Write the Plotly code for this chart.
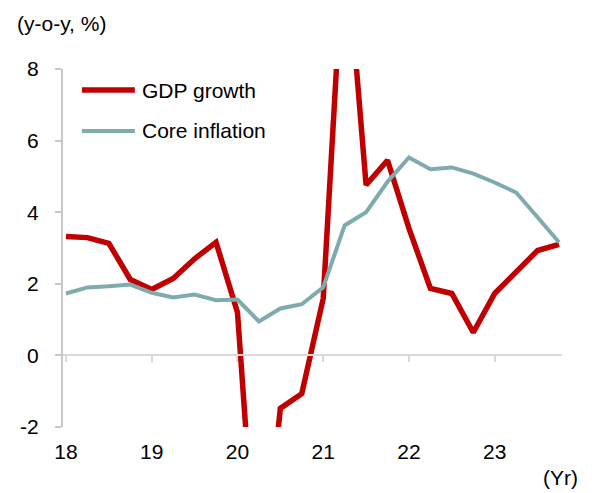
import plotly.graph_objects as go

# ---- data ----
quarters = ["18Q1", "18Q2", "18Q3", "18Q4",
            "19Q1", "19Q2", "19Q3", "19Q4",
            "20Q1", "20Q2", "20Q3", "20Q4",
            "21Q1", "21Q2", "21Q3", "21Q4",
            "22Q1", "22Q2", "22Q3", "22Q4",
            "23Q1", "23Q2", "23Q3", "23Q4"]
gdp_growth = [3.32, 3.29, 3.13, 2.12,
              1.84, 2.15, 2.70, 3.16,
              1.20, -7.2, -1.48, -1.07,
              1.59, 12.0, 4.76, 5.45,
              3.55, 1.87, 1.73, 0.64,
              1.73, 2.32, 2.93, 3.10]
core_inflation = [1.73, 1.90, 1.93, 1.98,
                  1.75, 1.62, 1.70, 1.54,
                  1.56, 0.95, 1.31, 1.43,
                  1.90, 3.63, 4.00, 4.85,
                  5.53, 5.20, 5.25, 5.08,
                  4.83, 4.55, 3.86, 3.16]
year_ticks = [18, 19, 20, 21, 22, 23]
year_labels = ["18", "19", "20", "21", "22", "23"]
y_ticks = [-2, 0, 2, 4, 6, 8]
y_labels = ["-2", "0", "2", "4", "6", "8"]

# quarter label -> numeric position on the year axis
x_vals = [int(q[:2]) + (int(q[3]) - 1) / 4 for q in quarters]

RED = "#C00000"
TEAL = "#7FAAAE"
FONT = "Liberation Sans, Arial, sans-serif"
FS = 21
X_RANGE = [17.965, 23.785]
Y_RANGE = [-2, 8]

fig = go.Figure()
fig.add_trace(go.Scatter(x=x_vals, y=gdp_growth, mode="lines", name="GDP growth",
                         line=dict(color=RED, width=5.5), showlegend=False,
                         xaxis="x", yaxis="y"))
fig.add_trace(go.Scatter(x=x_vals, y=core_inflation, mode="lines", name="Core inflation",
                         line=dict(color=TEAL, width=4), showlegend=False,
                         xaxis="x2", yaxis="y"))

# the page body has an 8px margin, so the figure is 8px smaller than the window
fig.update_layout(
    width=584, height=485,
    margin=dict(l=55, r=30, t=61, b=66),
    paper_bgcolor="white", plot_bgcolor="white",
    font=dict(family=FONT, size=FS, color="#000000"),
    xaxis=dict(range=X_RANGE, tickvals=year_ticks, ticktext=year_labels,
               showline=False, showgrid=False, zeroline=False, ticks="",
               ticklabelstandoff=10, fixedrange=True),
    xaxis2=dict(range=X_RANGE, overlaying="x", anchor="free", position=0.2,
                side="bottom", tickvals=year_ticks, showticklabels=False,
                showline=True, linecolor="#D9D9D9", linewidth=2,
                ticks="outside", ticklen=6, tickwidth=2, tickcolor="#D9D9D9",
                showgrid=False, zeroline=False),
    yaxis=dict(range=Y_RANGE, tickvals=y_ticks, ticktext=y_labels,
               showgrid=False, zeroline=False,
               showline=True, linecolor="#C8C8C8", linewidth=2,
               ticks="outside", ticklen=6, tickwidth=2, tickcolor="#C8C8C8",
               ticklabelstandoff=12),
    showlegend=False,
)

# hand-built legend (longer swatches, as in the reference)
legend_items = [("GDP growth", RED, 5.5, 0.941), ("Core inflation", TEAL, 4, 0.827)]
for label, color, w, yy in legend_items:
    fig.add_shape(type="line", xref="paper", yref="paper", x0=0.038, x1=0.144,
                  y0=yy, y1=yy, line=dict(color=color, width=w))
    fig.add_annotation(text=label, xref="paper", yref="paper", x=0.154, y=yy,
                       xanchor="left", yanchor="middle", showarrow=False,
                       font=dict(family=FONT, size=FS, color="#000000"))

fig.add_annotation(text="(y-o-y, %)", xref="paper", yref="paper", x=-0.096, y=1.128,
                   xanchor="left", yanchor="middle", showarrow=False,
                   font=dict(family=FONT, size=FS, color="#000000"))
fig.add_annotation(text="(Yr)", xref="paper", yref="paper", x=1.036, y=-0.142,
                   xanchor="right", yanchor="middle", showarrow=False,
                   font=dict(family=FONT, size=FS, color="#000000"))

fig.write_html("out.html")
